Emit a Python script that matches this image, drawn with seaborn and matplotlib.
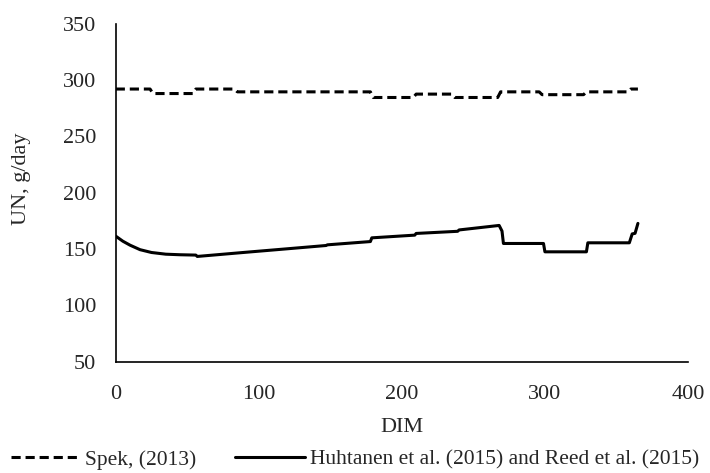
import matplotlib
matplotlib.use("Agg")
import matplotlib.pyplot as plt
import pandas as pd
import seaborn as sns

# Spek (2013) - dashed line, knots
spek_dim = [0, 24, 26, 54, 56, 83, 85, 178, 180, 208, 210, 235, 237, 267,
            269, 296, 298, 327, 329, 358, 360, 365]
spek_un = [292, 292, 288, 288, 292, 292, 289.5, 289.5, 284.5, 284.5, 287.5,
           287.5, 284.5, 284.5, 289.5, 289.5, 287, 287, 289.5, 289.5, 292, 292]

# Huhtanen et al. (2015) and Reed et al. (2015) - solid line
huht_dim = [0, 5, 10, 17, 25, 35, 45, 56, 57, 90, 120, 147, 148, 178, 179,
            209, 210, 239, 240, 268, 270, 271, 299, 300, 329, 330, 359, 361,
            363, 365]
huht_un = [161.5, 157, 153.5, 149.5, 147, 145.5, 145, 144.7, 143.5, 147.1,
           150.3, 153.2, 153.8, 156.7, 160, 162.4, 163.9, 165.8, 167, 171,
           166, 155, 155, 147.6, 147.6, 155.6, 155.6, 163.5, 164, 172.8]

labels = ["Spek, (2013)", "Huhtanen et al. (2015) and Reed et al. (2015)"]

df_spek = pd.DataFrame({"DIM": spek_dim, "UN": spek_un})
df_huht = pd.DataFrame({"DIM": huht_dim, "UN": huht_un})

sns.set_style("white")
plt.rcParams["font.family"] = ["Liberation Serif", "DejaVu Serif"]

fig = plt.figure(figsize=(7.1, 4.73), dpi=100)
ax = fig.add_axes([0.163, 0.235, 0.806, 0.715])

sns.lineplot(data=df_spek, x="DIM", y="UN", ax=ax, color="black",
             linewidth=2.2, sort=False, estimator=None, label=labels[0])
ax.lines[-1].set_dashes([3, 1.6])
sns.lineplot(data=df_huht, x="DIM", y="UN", ax=ax, color="black",
             linewidth=2.2, sort=False, estimator=None, label=labels[1])

ax.set_xlim(0, 400)
ax.set_ylim(50, 350)
ax.set_xticks(range(0, 401, 100))
ax.set_yticks(range(50, 351, 50))
ax.tick_params(axis="both", labelsize=16, length=0)
ax.tick_params(axis="x", pad=17)
ax.tick_params(axis="y", pad=14)
ax.set_xlabel("DIM", fontsize=16)
ax.set_ylabel("UN, g/day", fontsize=16)
ax.xaxis.set_label_coords(0.5, -0.165)
ax.yaxis.set_label_coords(-0.148, 0.54)

for side in ["top", "right"]:
    ax.spines[side].set_visible(False)
for side in ["left", "bottom"]:
    ax.spines[side].set_color("black")
    ax.spines[side].set_linewidth(1.2)

handles, labs = ax.get_legend_handles_labels()
ax.get_legend().remove()
fig.legend(handles, labs, loc="center", bbox_to_anchor=(0.5, 0.028),
           ncol=2, frameon=False, fontsize=15.5, handlelength=3.25,
           handletextpad=0.2, columnspacing=1.8, borderpad=0)

fig.savefig("out.png", dpi=100)
